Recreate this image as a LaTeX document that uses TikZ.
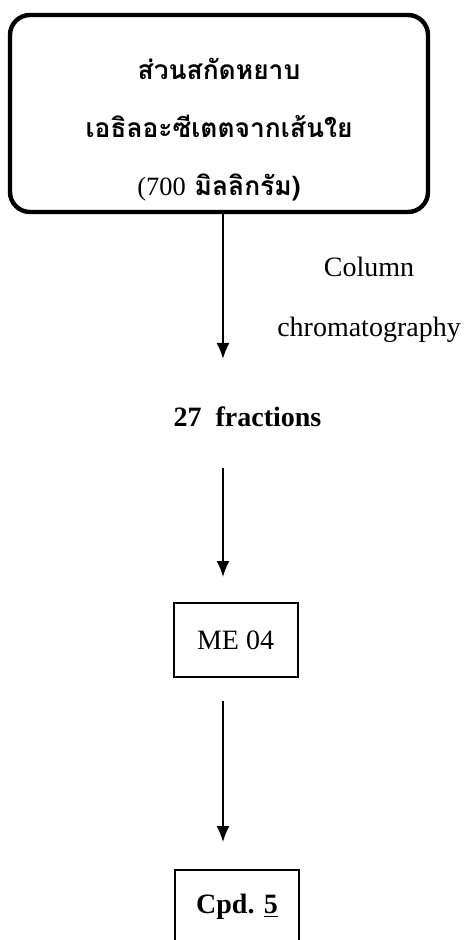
\documentclass[tikz,border=0pt]{standalone}
\usepackage{fontspec}
\setmainfont{Liberation Serif}
\newfontfamily\thaifont[Script=Thai]{Loma}
\usetikzlibrary{arrows.meta}
\tikzset{>={Latex[length=8pt,width=6.5pt]}}

\begin{document}
\begin{tikzpicture}[x=0.5pt,y=-0.5pt,
		txt/.style={font=\fontsize{14}{17}\selectfont},
		boxed/.style={draw,line width=1pt,minimum width=62pt,minimum height=37pt},
		arr/.style={->,line width=0.9pt}]
		\useasboundingbox (0,0) rectangle (464,940);
		\coordinate (ax) at (223,0);
		\node[draw,line width=2.2pt,rounded corners=10pt,minimum width=209pt,minimum height=98.5pt,align=center,font=\thaifont\bfseries\fontsize{13.2}{29}\selectfont] (crude) at (219,113.5) {\rule{0pt}{27pt}ส่วนสกัดหยาบ\\เอธิลอะซีเตตจากเส้นใย\\{\rmfamily\mdseries(700} มิลลิกรัม)};
		\node[txt,align=center,font=\fontsize{14}{30}\selectfont] (cc) at (369,300) {Column\\chromatography};
		\node[txt] (fr) at (247.5,417) {\bfseries 27\enspace fractions};
		\node[txt,boxed] (me) at (235.5,640) {ME 04};
		\node[txt,boxed] (cpd) at (237,907) {\bfseries Cpd. \underline{5}};
		\draw[arr] (crude.south -| ax) -- ([yshift=20.5pt]fr.north -| ax);
		\draw[arr] ([yshift=-17pt]fr.south -| ax) -- ([yshift=12.5pt]me.north -| ax);
		\draw[arr] ([yshift=-11.5pt]me.south -| ax) -- ([yshift=13.5pt]cpd.north -| ax);
	\end{tikzpicture}
\end{document}
